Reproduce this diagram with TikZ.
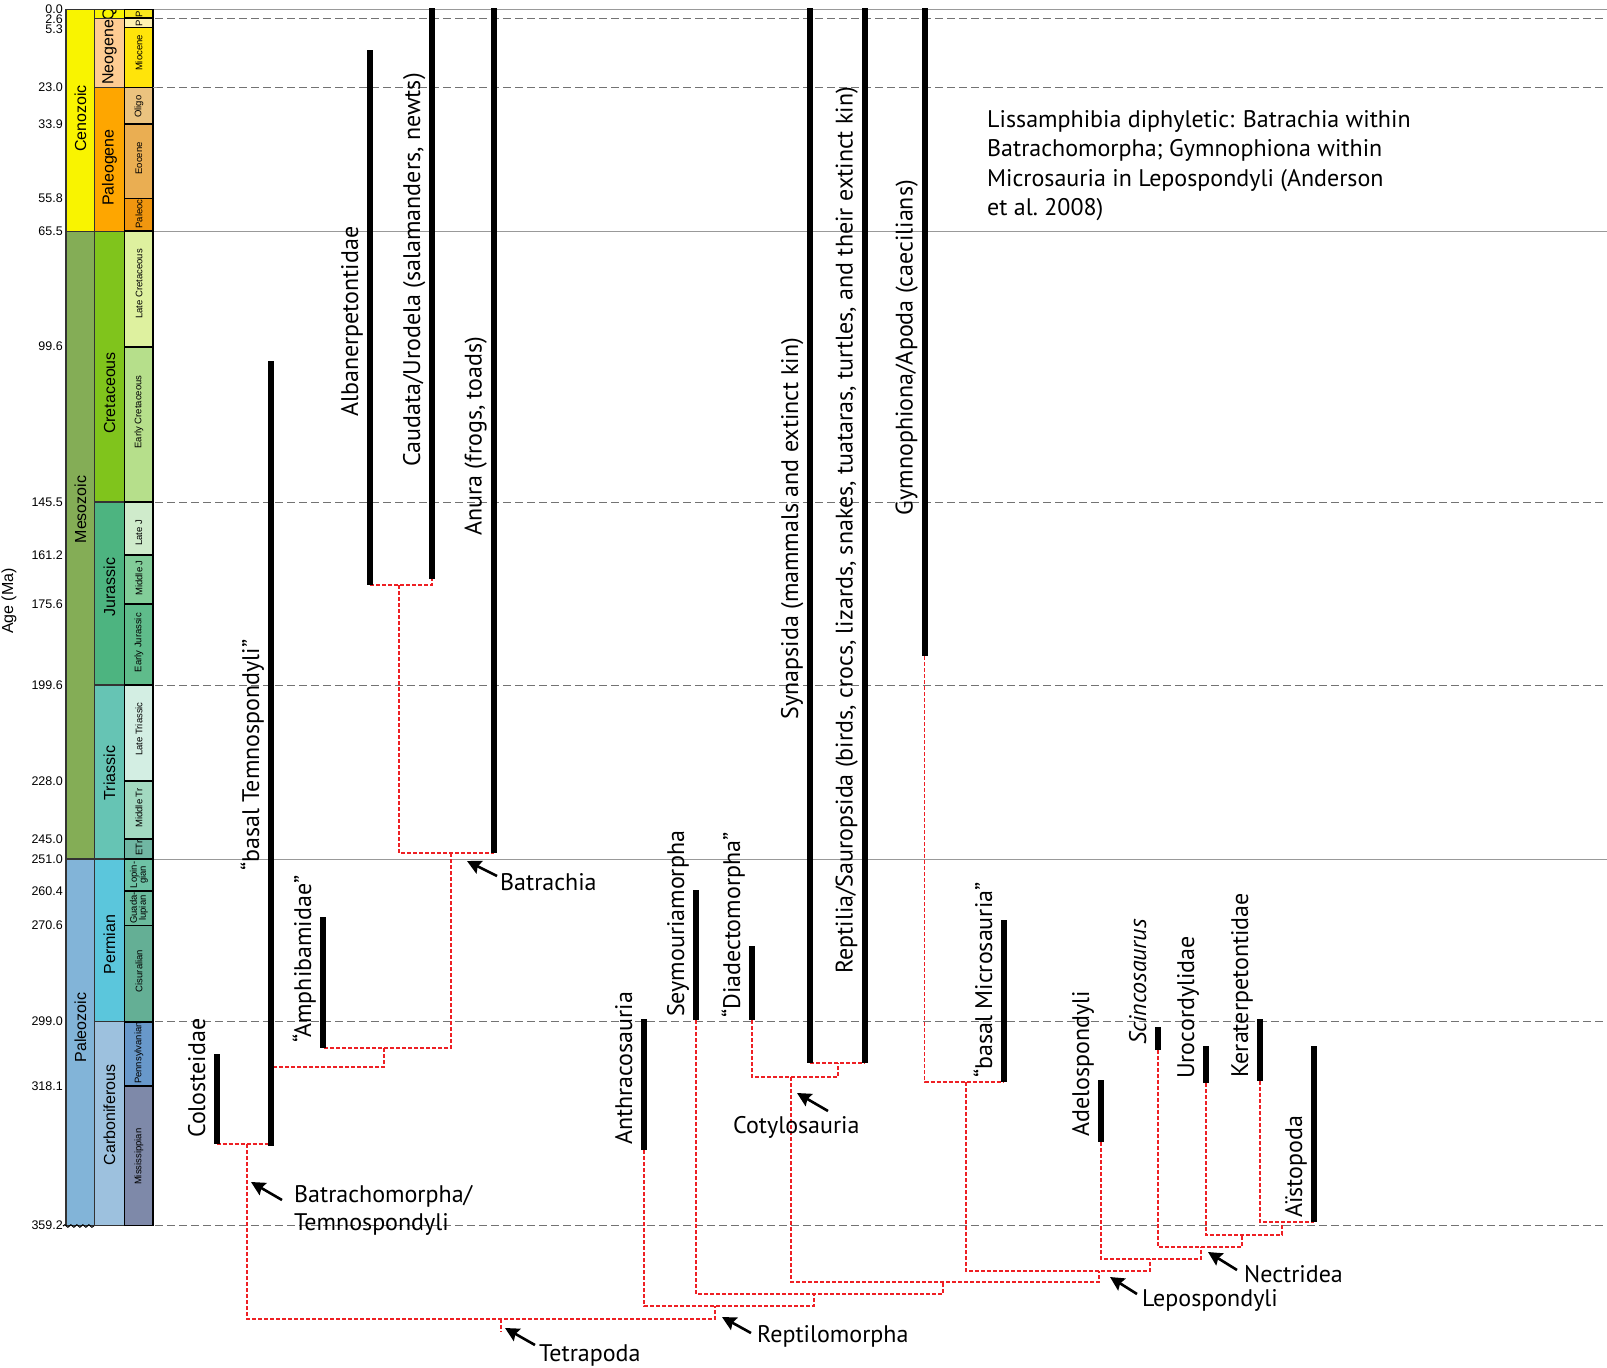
\documentclass[tikz,border=0pt]{standalone}
\usepackage{fontspec}
\setmainfont{PT Sans}
\newfontfamily\arialfont{Liberation Sans}
\usetikzlibrary{arrows.meta,decorations.pathmorphing}
\definecolor{treered}{RGB}{238,32,36}
\definecolor{cCeno}{HTML}{F9F400}
\definecolor{cMeso}{HTML}{84AD56}
\definecolor{cPaleo}{HTML}{82B4D8}
\definecolor{cQuat}{HTML}{F9F400}
\definecolor{cNeo}{HTML}{FECC92}
\definecolor{cPgn}{HTML}{FEA600}
\definecolor{cCret}{HTML}{80C41C}
\definecolor{cJur}{HTML}{4DB480}
\definecolor{cTri}{HTML}{66C4B4}
\definecolor{cPerm}{HTML}{5BC6DC}
\definecolor{cCarb}{HTML}{9DC1DE}
\definecolor{ePlei}{HTML}{F8E71C}
\definecolor{ePlio}{HTML}{FFF2B0}
\definecolor{eMio}{HTML}{FFE40A}
\definecolor{eOli}{HTML}{EBC37F}
\definecolor{eEoc}{HTML}{EAAE52}
\definecolor{ePal}{HTML}{F0960F}
\definecolor{eLK}{HTML}{DEF19F}
\definecolor{eEK}{HTML}{B6DF8B}
\definecolor{eLJ}{HTML}{CFEBCB}
\definecolor{eMJ}{HTML}{82CD99}
\definecolor{eEJ}{HTML}{5FBC8B}
\definecolor{eLT}{HTML}{D3EEE3}
\definecolor{eMT}{HTML}{A2D9C0}
\definecolor{eET}{HTML}{70B6A3}
\definecolor{eLop}{HTML}{6EC2A5}
\definecolor{eGua}{HTML}{6BBB9D}
\definecolor{eCis}{HTML}{64AF95}
\definecolor{ePen}{HTML}{6898CA}
\definecolor{eMis}{HTML}{7E89A9}
\begin{document}
\begin{tikzpicture}[x=1pt,y=-1pt,
  cellbox/.style={draw=black!80, line width=1.3pt},
  epbox/.style={draw=black, line width=1.8pt},
  biglab/.style={font=\arialfont\fontsize{16}{16}\selectfont, rotate=90, inner sep=0pt},
  eplab/.style={font=\arialfont\fontsize{9.5}{9}\selectfont, rotate=90, inner sep=0pt, align=center},
  agelab/.style={font=\arialfont\fontsize{12.5}{12.5}\selectfont, anchor=east, inner sep=0pt},
  solidref/.style={draw=black!40, line width=1.2pt},
  dashref/.style={draw=black!55, line width=1pt, dash pattern=on 8pt off 4pt},
  rangebar/.style={draw=black, line width=6pt},
  treeline/.style={draw=treered, line width=1.3pt, dash pattern=on 4pt off 2pt},
  taxon/.style={font=\fontsize{24}{24}\selectfont, rotate=90, anchor=base west, inner sep=0pt},
  cladelab/.style={font=\fontsize{24}{24}\selectfont, anchor=base west, inner sep=0pt},
  pointer/.style={draw=black, line width=2.6pt, -{Stealth[length=14pt,width=14pt,inset=2pt]}}
]
\useasboundingbox (0,0) rectangle (1607,1368);
\fill[white] (0,0) rectangle (1607,1368);

% ---------- reference lines ----------
\draw[solidref] (153,9.5) -- (1607,9.5);
\draw[solidref] (153,231.2) -- (1607,231.2);
\draw[solidref] (153,859.1) -- (1607,859.1);
\foreach \yy in {18.3,87.4,502,685.1,1021.6,1225.4}
  \draw[dashref] (155,\yy) -- (1607,\yy);

% ---------- era column ----------
\draw[cellbox, fill=cCeno] (66,9.5) rectangle (94.5,231.2);
\draw[cellbox, fill=cMeso] (66,231.2) rectangle (94.5,859.1);
\draw[cellbox, fill=cPaleo] (66,859.1) rectangle (94.5,1225.4);
\node[biglab] (eraC) at (80.5,118.5) {Cenozoic};
\node[biglab] (eraM) at (80.5,509.5) {Mesozoic};
\node[biglab] (eraP) at (80.5,1027.6) {Paleozoic};
\draw[black, line width=1pt, decorate, decoration={snake, amplitude=1.3pt, segment length=6pt}] (63,1226) -- (94,1226);

% ---------- period column ----------
\draw[cellbox, fill=cQuat] (94.5,9.5) rectangle (124.5,18.3);
\draw[cellbox, fill=cNeo] (94.5,18.3) rectangle (124.5,87.4);
\draw[cellbox, fill=cPgn] (94.5,87.4) rectangle (124.5,231.2);
\draw[cellbox, fill=cCret] (94.5,231.2) rectangle (124.5,502);
\draw[cellbox, fill=cJur] (94.5,502) rectangle (124.5,685.1);
\draw[cellbox, fill=cTri] (94.5,685.1) rectangle (124.5,859.1);
\draw[cellbox, fill=cPerm] (94.5,859.1) rectangle (124.5,1021.6);
\draw[cellbox, fill=cCarb] (94.5,1021.6) rectangle (124.5,1225.4);
\begin{scope}
\clip (95,10) rectangle (124,17.8);
\node[biglab] (perQ) at (109.5,14) {Q};
\end{scope}
\node[biglab] (perN) at (109.5,52.5) {Neogene};
\node[biglab] (perPg) at (109.5,167.6) {Paleogene};
\node[biglab] (perK) at (109.5,393) {Cretaceous};
\node[biglab] (perJ) at (109.5,587) {Jurassic};
\node[biglab] (perTr) at (109.5,773) {Triassic};
\node[biglab] (perP) at (109.5,944.6) {Permian};
\node[biglab] (perC) at (109.5,1115) {Carboniferous};

% ---------- epoch column ----------
\draw[epbox, fill=ePlei] (124.5,9.5) rectangle (153,18.3);
\draw[epbox, fill=ePlio] (124.5,18.3) rectangle (153,27.4);
\draw[epbox, fill=eMio] (124.5,27.4) rectangle (153,87.4);
\draw[epbox, fill=eOli] (124.5,87.4) rectangle (153,124.3);
\draw[epbox, fill=eEoc] (124.5,124.3) rectangle (153,198.4);
\draw[epbox, fill=ePal] (124.5,198.4) rectangle (153,231.2);
\draw[epbox, fill=eLK] (124.5,231.2) rectangle (153,346.6);
\draw[epbox, fill=eEK] (124.5,346.6) rectangle (153,502);
\draw[epbox, fill=eLJ] (124.5,502) rectangle (153,555.2);
\draw[epbox, fill=eMJ] (124.5,555.2) rectangle (153,603.9);
\draw[epbox, fill=eEJ] (124.5,603.9) rectangle (153,685.1);
\draw[epbox, fill=eLT] (124.5,685.1) rectangle (153,781.3);
\draw[epbox, fill=eMT] (124.5,781.3) rectangle (153,838.8);
\draw[epbox, fill=eET] (124.5,838.8) rectangle (153,859.1);
\draw[epbox, fill=eLop] (124.5,859.1) rectangle (153,891);
\draw[epbox, fill=eGua] (124.5,891) rectangle (153,925.5);
\draw[epbox, fill=eCis] (124.5,925.5) rectangle (153,1021.6);
\draw[epbox, fill=ePen] (124.5,1021.6) rectangle (153,1086.3);
\draw[epbox, fill=eMis] (124.5,1086.3) rectangle (153,1225.4);
\draw[black!40, line width=1.2pt] (153,87.4) -- (157,87.4);
\node[eplab] (epP1) at (139,14) {P};
\node[eplab] (epP2) at (139,22.9) {P};
\node[eplab] (epMio) at (139,53) {Miocene};
\node[eplab] (epOli) at (139,106.7) {Oligo};
\node[eplab] (epEoc) at (139,158.3) {Eocene};
\node[eplab] (epPal) at (139,214) {Paleoc};
\node[eplab] (epLK) at (139,284) {Late Cretaceous};
\node[eplab] (epEK) at (139,412) {Early Cretaceous};
\node[eplab] (epLJ) at (139,533) {Late J};
\node[eplab] (epMJ) at (139,578) {Middle J};
\node[eplab] (epEJ) at (139,642.7) {Early Jurassic};
\node[eplab] (epLT) at (139,729) {Late Triassic};
\node[eplab] (epMT) at (139,808) {Middle Tr};
\node[eplab] (epET) at (139,848) {ETr};
\node[eplab] (epLop) at (139,875) {Lopin-\\gian};
\node[eplab] (epGua) at (139,908) {Guada-\\lupian};
\node[eplab] (epCis) at (139,971) {Cisuralian};
\node[eplab] (epPen) at (139,1053) {Pennsylvanian};
\node[eplab] (epMis) at (139,1156.7) {Mississippian};

% ---------- ages ----------
\foreach \a/\yy [count=\i] in {0.0/9.5,2.6/18.8,5.3/29.5,23.0/87.4,33.9/124.3,55.8/198.4,65.5/231.2,99.6/346.6,145.5/502,161.2/555.2,175.6/603.9,199.6/685.1,228.0/781.3,245.0/838.8,251.0/859.1,260.4/891,270.6/925.5,299.0/1021.6,318.1/1086.3,359.2/1225.4}
  \node[agelab] (age\i) at (63,\yy) {\a};
\node[font=\arialfont\fontsize{16}{16}\selectfont, rotate=90, inner sep=0pt] (agetitle) at (9,601) {Age (Ma)};

% ---------- bar end coordinates ----------
\coordinate (colT) at (216.5,1054);  \coordinate (colB) at (216.5,1144);
\coordinate (temT) at (271,361);     \coordinate (temB) at (271,1146);
\coordinate (ampT) at (323,917);     \coordinate (ampB) at (323,1048);
\coordinate (albT) at (370,50);      \coordinate (albB) at (370,585);
\coordinate (cauT) at (432,8);       \coordinate (cauB) at (432,579);
\coordinate (anuT) at (493.5,8);     \coordinate (anuB) at (493.5,853);
\coordinate (antT) at (644,1019);    \coordinate (antB) at (644,1150);
\coordinate (seyT) at (696,890);     \coordinate (seyB) at (696,1020);
\coordinate (diaT) at (752,946);     \coordinate (diaB) at (752,1020);
\coordinate (synT) at (810,8);       \coordinate (synB) at (810,1063);
\coordinate (repT) at (864.5,8);     \coordinate (repB) at (864.5,1063);
\coordinate (gymT) at (924.5,8);     \coordinate (gymB) at (924.5,656);
\coordinate (micT) at (1004,920);    \coordinate (micB) at (1004,1082);
\coordinate (adeT) at (1101,1080);   \coordinate (adeB) at (1101,1142);
\coordinate (sciT) at (1158,1027);   \coordinate (sciB) at (1158,1050);
\coordinate (uroT) at (1206,1046);   \coordinate (uroB) at (1206,1083);
\coordinate (kerT) at (1260,1019);   \coordinate (kerB) at (1260,1081);
\coordinate (aisT) at (1314,1046);   \coordinate (aisB) at (1314,1222);
\coordinate (temJ) at (271,1067);

% internal nodes
\coordinate (nAlbCau) at (399,585);
\coordinate (nBatr) at (451,853);
\coordinate (nAmpBat) at (384,1048);
\coordinate (nColTem) at (247,1144);
\coordinate (nTetra) at (501,1319);
\coordinate (nRepto) at (715,1306);
\coordinate (nSey) at (814,1294);
\coordinate (nCotLep) at (943,1282);
\coordinate (nCotylo) at (791,1077);
\coordinate (nAmn) at (838,1063);
\coordinate (nLepo) at (1099,1271);
\coordinate (nMic) at (966,1082);
\coordinate (nAdeN) at (1150,1259);
\coordinate (nNect) at (1201,1247);
\coordinate (nSciU) at (1242,1235);
\coordinate (nUroK) at (1282,1222);

% ---------- tree ----------
\draw[treeline] (albB) -- (cauB |- albB) -- (cauB);
\draw[treeline] (nAlbCau) |- (anuB);
\draw[treeline] (nBatr) |- (ampB);
\draw[treeline] (nAmpBat) |- (temJ);
\draw[treeline] (colB) -- (temB |- colB);
\draw[treeline] (nColTem) |- (nRepto |- nTetra) -- (nRepto);
\draw[treeline] (nTetra) -- ++(0,13);
\draw[treeline] (antB) |- (nSey |- nRepto) -- (nSey);
\draw[treeline] (seyB) |- (nCotLep |- nSey) -- (nCotLep);
\draw[treeline] (nCotylo) |- (nLepo |- nCotLep) -- (nLepo);
\draw[treeline] (diaB) |- (nAmn |- nCotylo) -- (nAmn);
\draw[treeline] (synB) -- (repB);
\draw[treeline] (gymB) |- (micB);
\draw[treeline] (nMic) |- (nAdeN |- nLepo) -- (nAdeN);
\draw[treeline] (adeB) |- (nNect |- nAdeN) -- (nNect);
\draw[treeline] (sciB) |- (nSciU |- nNect) -- (nSciU);
\draw[treeline] (uroB) |- (nUroK |- nSciU) -- (nUroK);
\draw[treeline] (kerB) |- (aisB);

% ---------- range bars ----------
\foreach \t in {col,tem,amp,alb,cau,anu,ant,sey,dia,syn,rep,gym,mic,ade,sci,uro,ker,ais}
  \draw[rangebar] (\t T) -- (\t B);

% ---------- taxon labels ----------
\node[taxon] (lcol) at (205,1138) {Colosteidae};
\node[taxon] (ltem) at (259,871) {“basal Temnospondyli”};
\node[taxon] (lamp) at (311,1043) {“Amphibamidae”};
\node[taxon] (lalb) at (358,417) {Albanerpetontidae};
\node[taxon] (lcau) at (420,467) {Caudata/Urodela (salamanders, newts)};
\node[taxon] (lanu) at (481.5,536) {Anura (frogs, toads)};
\node[taxon] (lant) at (632,1145) {Anthracosauria};
\node[taxon] (lsey) at (684,1017) {Seymouriamorpha};
\node[taxon] (ldia) at (740,1018) {“Diadectomorpha”};
\node[taxon] (lsyn) at (798,719.5) {Synapsida (mammals and extinct kin)};
\node[taxon] (lrep) at (852.5,974) {Reptilia/Sauropsida (birds, crocs, lizards, snakes, tuataras, turtles, and their extinct kin)};
\node[taxon] (lgym) at (912.5,515.5) {Gymnophiona/Apoda (caecilians)};
\node[taxon] (lmic) at (992,1078) {“basal Microsauria”};
\node[taxon] (lade) at (1089,1137) {Adelospondyli};
\node[taxon] (lsci) at (1146,1045) {\itshape Scincosaurus};
\node[taxon] (luro) at (1194,1079) {Urocordylidae};
\node[taxon] (lker) at (1248,1078) {Keraterpetontidae};
\node[taxon] (lais) at (1302,1218) {Aïstopoda};

% ---------- clade labels & pointers ----------
\node[cladelab] (cBatr) at (500,890) {Batrachia};
\node[cladelab] (cBtm1) at (294,1202) {Batrachomorpha/};
\node[cladelab] (cBtm2) at (294,1230) {Temnospondyli};
\node[cladelab] (cTetra) at (539,1361) {Tetrapoda};
\node[cladelab] (cRepto) at (757,1342) {Reptilomorpha};
\node[cladelab] (cCotylo) at (733,1133) {Cotylosauria};
\node[cladelab] (cLepo) at (1142,1306) {Lepospondyli};
\node[cladelab] (cNect) at (1244,1282) {Nectridea};

\coordinate (pBatrT) at (497,876);   \coordinate (pBatrH) at (467,861);
\coordinate (pBtmT) at (282,1200);   \coordinate (pBtmH) at (251,1182);
\coordinate (pTetT) at (535,1345);   \coordinate (pTetH) at (505,1328);
\coordinate (pRepT) at (751,1333);   \coordinate (pRepH) at (722,1317);
\coordinate (pCotT) at (828,1111);   \coordinate (pCotH) at (797,1093);
\coordinate (pLepT) at (1137,1294);  \coordinate (pLepH) at (1110,1277);
\coordinate (pNecT) at (1237,1270);  \coordinate (pNecH) at (1208,1252);
\draw[pointer] (pBatrT) -- (pBatrH);
\draw[pointer] (pBtmT) -- (pBtmH);
\draw[pointer] (pTetT) -- (pTetH);
\draw[pointer] (pRepT) -- (pRepH);
\draw[pointer] (pCotT) -- (pCotH);
\draw[pointer] (pLepT) -- (pLepH);
\draw[pointer] (pNecT) -- (pNecH);

% ---------- note ----------
\node[cladelab] (note1) at (987,127) {Lissamphibia diphyletic: Batrachia within};
\node[cladelab] (note2) at (987,156.5) {Batrachomorpha; Gymnophiona within};
\node[cladelab] (note3) at (987,186) {Microsauria in Lepospondyli (Anderson};
\node[cladelab] (note4) at (987,215.5) {et al.\ 2008)};
\end{tikzpicture}
\end{document}
